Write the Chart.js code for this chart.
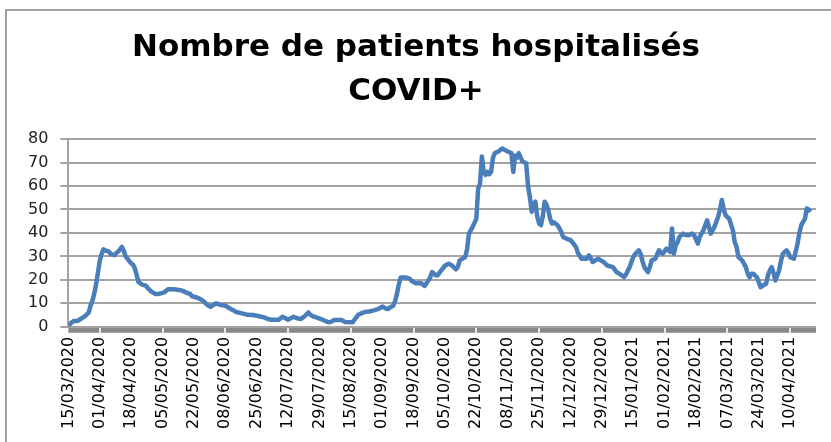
<!DOCTYPE html>
<html>
<head>
<meta charset="utf-8">
<script src="https://cdn.jsdelivr.net/npm/chart.js@4.4.1/dist/chart.umd.min.js"></script>
<style>
  body { margin: 0; background: #fff; overflow: hidden; }
  .wrap { position: relative; width: 831px; height: 442px; overflow: hidden; background: #fff; }
  .frame { position: absolute; left: 5px; top: 9px; width: 900px; height: 500px;
           border-left: 2px solid #a0a0a0; border-top: 2px solid #a0a0a0; }
  #hospchart { position: absolute; left: 0; top: 0; }
</style>
</head>
<body>
<div class="wrap">
  <div class="frame"></div>
  <canvas id="hospchart" width="831" height="442"></canvas>
</div>

<script>

/* Data  */

// days since 15/03/2020
var days = [0,2,3,5,6,8,9,11,12,13,14,15,16,17,18,19,20,22,23,25,26,27,29,30,31,32,34,35,36,37,38,40,42,43,45,47,49,52,54,57,60,62,64,
  66,67,69,71,73,75,77,78,80,82,85,87,89,91,94,97,100,102,104,106,108,110,114,116,118,119,121,122,124,126,128,130,131,133,
  135,138,141,142,144,148,150,154,155,157,159,161,163,165,168,170,172,173,176,177,178,179,180,183,185,186,188,191,193,194,196,197,199,200,
  202,204,206,208,210,211,212,215,216,217,219,221,222,223,224,225,226,227,228,229,230,231,233,235,236,238,240,241,242,243,244,246,248,
  249,250,251,252,253,254,255,256,257,258,259,260,261,262,263,265,266,267,268,270,
  272,273,275,276,278,281,282,283,284,286,287,289,290,292,295,297,299,300,301,302,304,306,307,309,310,311,312,314,315,316,318,319,320,
  321,322,324,326,327,328,329,330,331,333,334,336,338,
  339,341,342,344,346,348,350,352,353,354,355,356,358,360,361,362,363,365,367,368,369,370,371,373,374,375,377,378,379,380,381,382,383,
  385,386,387,389,390,391,393,394,395,396,397,398,399,400,401,402];

var patients = [0.5,2,2.5,2.5,3,4,4.5,6,9,11,14,18,23,28,31,33,32.5,32,31,30.5,31.5,32,34,32.5,30,29,27,26.5,25,22,19,18,17.5,16.5,15,14,14,14.7,16,16,15.7,15.3,14.5,
  14,13,12.6,12,11,9.5,8.5,9,10,9.4,9,8,7.2,6.3,5.7,5.1,5,4.7,4.4,4,3.3,3,3,4.3,3.5,3,3.8,4.3,3.6,3.3,4.5,6.1,5.2,4.3,
  3.8,2.9,1.9,2,2.9,2.9,2,1.9,3,5.1,5.8,6.4,6.5,6.9,7.6,8.6,7.8,7.6,9,11,14,18,21,21,20.4,19.5,18.6,18.6,17.4,18.5,21,23.3,22,21.9,
  24,26,26.9,26,24.5,25.5,28.3,29.7,33,39.7,42.6,46,59,61,72.6,66,64.7,66,65,66,72,74,74.7,76,75.5,74.7,74,66,73,72,74,70.4,69.7,
  60,55.4,49,52,53.3,47,44,43.3,47,53.3,52,49.7,46,44,44.5,43.3,41.9,40.5,38.3,37.5,
  36.9,36.1,34,31.5,29,29,30.4,29.2,27.6,28.5,29,28,27.6,26.1,25.4,23.3,22.3,21.9,21.1,22.2,25.4,29.7,31,32.6,31.1,28,25.4,23.3,25.5,28.3,29,31,32.6,
  31.5,31.1,33.3,31.9,41.9,31.1,34.7,36,38.3,39.7,39.2,39,39.7,
  39,35.4,38.3,41.1,45.4,39.7,42.6,46.9,50,54,50,47.6,46,41.1,36,34,29.7,28.3,25.4,22.6,21.1,22.6,22.6,21.1,19,16.9,18,18.3,22,24,25.4,23,19.7,
  24,28,31.1,32.6,31.5,29.7,29,32,35.4,40,43.3,44.7,46,50.4,50,49];

// one label every 17 days
var tickLabels = ['15/03/2020','01/04/2020','18/04/2020','05/05/2020','22/05/2020','08/06/2020','25/06/2020','12/07/2020',
  '29/07/2020','15/08/2020','01/09/2020','18/09/2020','05/10/2020','22/10/2020','08/11/2020','25/11/2020','12/12/2020',
  '29/12/2020','15/01/2021','01/02/2021','18/02/2021','07/03/2021','24/03/2021','10/04/2021'];

var lastDay = 405;
var labelStep = 17;


/* Grey band under the plot (excel axis look) */

var axisBand = {
  id: 'axisBand',
  beforeDraw: function (chart) {
    var a = chart.chartArea;
    var c = chart.ctx;
    c.save();
    c.fillStyle = '#898989';
    c.fillRect(a.left, a.bottom, a.right - a.left, 6);
    c.restore();
  }
};


/* Chart  */

var points = days.map(function (d, i) { return { x: d, y: patients[i] }; });

var hosp = document.getElementById('hospchart');
var hospchart = new Chart(hosp, {
  type: 'line',
  data: {
    datasets: [{
      label: 'Hospitalisés',
      data: points,
      borderColor: '#4a7ebb',
      backgroundColor: '#4a7ebb',
      borderWidth: 4.5,
      borderJoinStyle: 'round',
      pointRadius: 0,
      tension: 0,
      fill: false
    }]
  },
  options: {
    responsive: false,
    animation: false,
    devicePixelRatio: 1,
    layout: {
      padding: { left: 16, right: 15, top: 0, bottom: 10 }
    },
    plugins: {
      legend: { display: false },
      tooltip: { enabled: false },
      title: {
        display: true,
        text: ['Nombre de patients hospitalisés', 'COVID+'],
        color: '#000',
        font: { family: 'DejaVu Sans', size: 31, weight: 'bold', lineHeight: 1.42 },
        padding: { top: 26, bottom: 25 }
      }
    },
    scales: {
      x: {
        type: 'linear',
        min: 0,
        max: lastDay,
        afterBuildTicks: function (axis) {
          axis.ticks = tickLabels.map(function (l, i) { return { value: i * labelStep }; });
        },
        border: { display: false },
        grid: {
          drawOnChartArea: false,
          drawTicks: true,
          tickLength: 7,
          lineWidth: 2,
          color: function (ctx) {
            if (!ctx.tick) return 'rgba(0,0,0,0)';
            return (ctx.tick.value / labelStep) % 2 === 1 ? '#e8e8e8' : 'rgba(0,0,0,0)';
          }
        },
        ticks: {
          autoSkip: false,
          minRotation: 90,
          maxRotation: 90,
          padding: 3,
          color: '#000',
          font: { family: 'DejaVu Sans', size: 16 },
          callback: function (value) {
            return tickLabels[Math.round(value / labelStep)];
          }
        }
      },
      y: {
        min: 0,
        max: 80,
        border: { display: true, color: '#a3a3a3', width: 2 },
        grid: {
          color: '#a3a3a3',
          lineWidth: 2,
          drawTicks: true,
          tickLength: 8
        },
        ticks: {
          stepSize: 10,
          padding: 12,
          color: '#222',
          font: { family: 'DejaVu Sans', size: 16 }
        }
      }
    }
  },
  plugins: [axisBand]
});

</script>
</body>
</html>
